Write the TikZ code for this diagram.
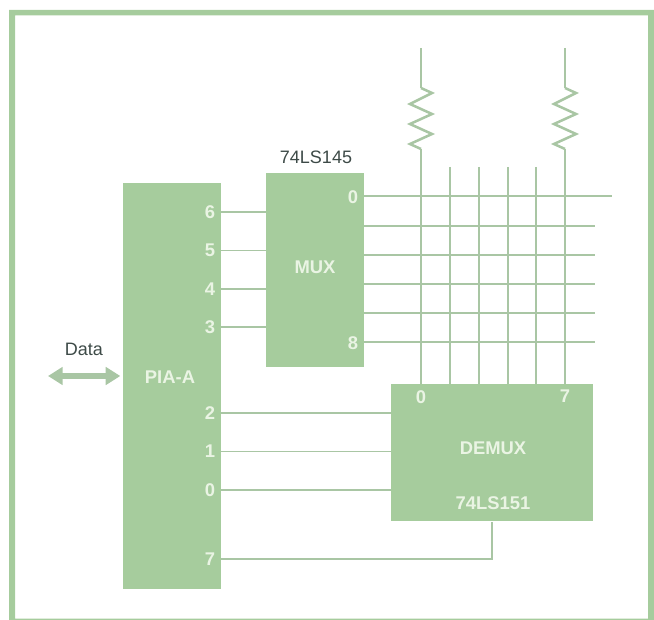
\documentclass[tikz,border=0pt]{standalone}
\usepackage{fontspec}
\setmainfont{Liberation Sans}
\usepackage{tikz}
\usetikzlibrary{arrows.meta}
\definecolor{boxgreen}{HTML}{A6CC9D}
\definecolor{wiregreen}{HTML}{A9C6A4}
\definecolor{numwhite}{HTML}{EAF4E4}
\definecolor{inkgray}{HTML}{3D4A47}

\begin{document}
\begin{tikzpicture}[x=0.75pt,y=-0.75pt]
      \tikzstyle{block}=[rectangle,fill=boxgreen,anchor=north west,inner sep=0pt]
      \tikzstyle{num}=[text=numwhite,inner sep=0pt,font=\fontsize{13.8}{14}\selectfont\bfseries]
      \tikzstyle{title}=[text=inkgray,inner sep=0pt,font=\fontsize{13.5}{14}\selectfont]
      \tikzstyle{wire}=[draw=wiregreen,line width=1.2pt]
      \tikzstyle{res}=[draw=wiregreen,line width=1.9pt,line join=miter]

      \useasboundingbox (0,0) rectangle (654,620);
      \fill[boxgreen,even odd rule] (9,10) rectangle (654,620) (15,15.5) rectangle (648,618.5);

      \node[block,minimum width=73pt,minimum height=304.5pt](pia) at (123,183){};
      \node[block,minimum width=73pt,minimum height=145.5pt](mux) at (266,173){};
      \node[block,minimum width=151.5pt,minimum height=102.8pt](demux) at (391,384){};

      \node[num](pialab) at (170,377){PIA-A};
      \node[num](muxlab) at (315,267){MUX};
      \node[num](demuxlab) at (493,448){DEMUX};
      \node[num](demuxic) at (493,503){74LS151};
      \node[title](muxic) at (316,157){74LS145};
      \node[title](datalab) at (84,349){Data};

      \begin{scope}[node distance=28.8pt]
        \node[num](p6) at (210,212){6};
        \node[num,below of=p6](p5){5};
        \node[num,below of=p5](p4){4};
        \node[num,below of=p4](p3){3};
        \node[num](p2) at (210,413){2};
        \node[num,below of=p2](p1){1};
        \node[num,below of=p1](p0){0};
        \node[num](p7) at (210,559){7};
      \end{scope}

      \node[num](m0) at (353,197){0};
      \node[num](m8) at (353,343){8};
      \node[num](d0) at (421,397){0};
      \node[num](d7) at (565,396){7};

      \coordinate (m0end) at (612,196);
      \coordinate (m1) at (363.5,226);
      \coordinate (m2) at (363.5,255);
      \coordinate (m3) at (363.5,284);
      \coordinate (m4) at (363.5,313);
      \coordinate (m8end) at (595,342);
      \coordinate (c1) at (450,167);
      \coordinate (c2) at (479,167);
      \coordinate (c3) at (508,167);
      \coordinate (c4) at (536,167);
      \coordinate (top0) at (421,48);
      \coordinate (top7) at (565,48);
      \coordinate (dataend) at (48,376);

      % keypad rows and scan lines
      \path[wire]
      (pia.east |- p6) edge (mux.west |- p6)
      (pia.east |- p5) edge (mux.west |- p5)
      (pia.east |- p4) edge (mux.west |- p4)
      (pia.east |- p3) edge (mux.west |- p3)
      (pia.east |- p2) edge (demux.west |- p2)
      (pia.east |- p1) edge (demux.west |- p1)
      (pia.east |- p0) edge (demux.west |- p0)
      (mux.east |- m0end) edge (m0end)
      (m1) edge ++(231.5,0)
      (m2) edge ++(231.5,0)
      (m3) edge ++(231.5,0)
      (m4) edge ++(231.5,0)
      (mux.east |- m8end) edge (m8end)
      (c1) edge (c1 |- demux.north)
      (c2) edge (c2 |- demux.north)
      (c3) edge (c3 |- demux.north)
      (c4) edge (c4 |- demux.north);

      \draw[wire] (pia.east |- p7) -| (demux.south);

      % pull-up resistors
      \draw[wire] (top0) -- ++(0,40);
      \draw[res] (421,88) -- ++(11,5) -- ++(-22,11) -- ++(22,10) -- ++(-22,10) -- ++(22,10) -- ++(-22,10) -- ++(11,5);
      \draw[wire] (421,149) -- (top0 |- demux.north);

      \draw[wire] (top7) -- ++(0,40);
      \draw[res] (565,88) -- ++(11,5) -- ++(-22,11) -- ++(22,10) -- ++(-22,10) -- ++(22,10) -- ++(-22,10) -- ++(11,5);
      \draw[wire] (565,149) -- (top7 |- demux.north);

      \draw[draw=wiregreen,line width=5pt,shorten >=2pt,{Triangle[length=11pt,width=13pt]}-{Triangle[length=11pt,width=13pt]}]
      (dataend) -- (pia.west |- dataend);
\end{tikzpicture}
\end{document}
